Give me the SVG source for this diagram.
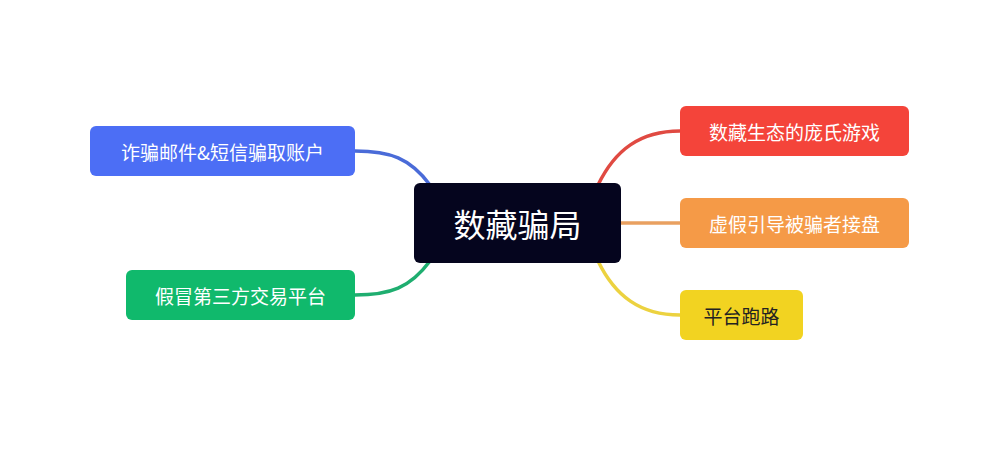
<svg xmlns="http://www.w3.org/2000/svg" width="1006" height="451" viewBox="0 0 1006 451">
<style>
.t{font-family:"Noto Sans CJK SC","Noto Sans",sans-serif;fill:#fff;font-size:19px;text-anchor:middle;dominant-baseline:central}
.c{fill:none;stroke-width:3.5}
</style>
<rect width="1006" height="451" fill="#fff"/>
<g id="connectors">
<path class="c" stroke="#4a6bd8" d="M430,185 C410,158 390,151 355,151"/>
<path class="c" stroke="#1fae70" d="M430,261 C410,288 390,295 355,295"/>
<path class="c" stroke="#e04a42" d="M598,185 C615,150 640,131 680,131"/>
<path class="c" stroke="#e9a060" d="M621,223 H680"/>
<path class="c" stroke="#ecd240" d="M598,261 C615,296 640,315 680,315"/>
</g>
<g id="center"><rect x="414" y="183" width="207" height="80" rx="6" fill="#05051e"/><text class="t" x="517.5" y="223" style="font-size:32px">数藏骗局</text></g>
<g id="n1"><rect x="90" y="126" width="265" height="50" rx="6" fill="#4c6ef5"/><text class="t" x="222.5" y="151">诈骗邮件&amp;短信骗取账户</text></g>
<g id="n2"><rect x="126" y="270" width="229" height="50" rx="6" fill="#10b96c"/><text class="t" x="240.5" y="295">假冒第三方交易平台</text></g>
<g id="n3"><rect x="680" y="106" width="229" height="50" rx="6" fill="#f4443a"/><text class="t" x="794.5" y="131">数藏生态的庞氏游戏</text></g>
<g id="n4"><rect x="680" y="198" width="229" height="50" rx="6" fill="#f59a47"/><text class="t" x="794.5" y="223">虚假引导被骗者接盘</text></g>
<g id="n5"><rect x="680" y="290" width="123" height="50" rx="6" fill="#f2d321"/><text class="t" x="741.5" y="315" style="fill:#222">平台跑路</text></g>
</svg>
